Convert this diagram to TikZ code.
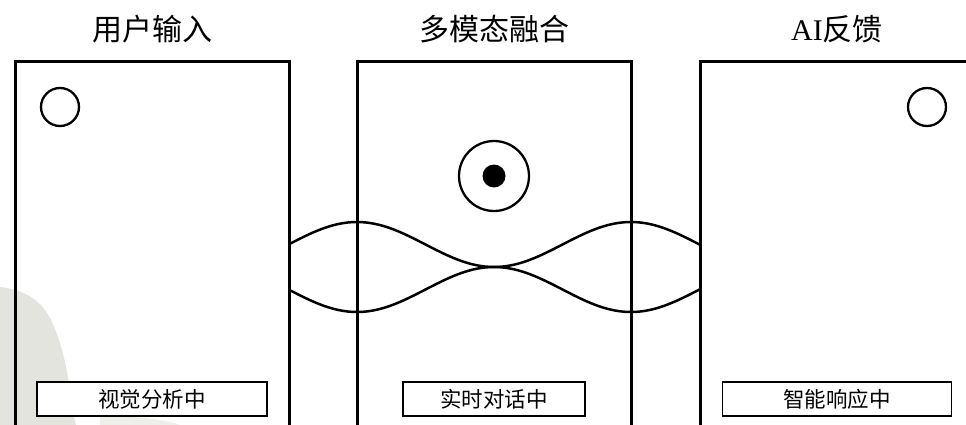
\documentclass[tikz,border=0pt]{standalone}
\usepackage{fontspec}
\setmainfont{Liberation Serif}
\newfontfamily\cjk{Noto Sans CJK SC}
\begin{document}
\begin{tikzpicture}[x=1pt,y=-1pt,
  panel/.style={draw=black, line width=3pt, minimum width=274pt, minimum height=380pt, inner sep=0pt},
  ptitle/.style={font=\fontsize{30}{32}\selectfont\cjk, inner sep=0pt, anchor=center},
  status/.style={draw=black, fill=white, line width=1.6pt, minimum height=34pt, inner sep=0pt, font=\fontsize{21.5}{24}\selectfont\cjk},
  ring/.style={circle, draw=black, line width=2.3pt, inner sep=0pt},
  wave/.style={line width=2.5pt, draw=black}]
\useasboundingbox (0,0) rectangle (966,425);
\clip (0,0) rectangle (966,425);
% faint background blob
\fill[color={rgb,255:red,227;green,228;blue,222}]
  (0,287) .. controls (25,290) and (42,300) .. (52,322)
  .. controls (62,345) and (68,370) .. (70,395)
  .. controls (72,410) and (74,418) .. (76,425) -- (0,425) -- cycle;
\fill[color={rgb,255:red,238;green,238;blue,234}]
  (100,417) .. controls (130,416) and (160,418) .. (180,425) -- (100,425) -- cycle;
% panels
\node[panel] (p1) at (152,252) {};
\node[panel] (p2) at (494,252) {};
\node[panel] (p3) at (837,252) {};
% titles
\node[ptitle] (t1) at (152,29) {用户输入};
\node[ptitle] (t2) at (494,29) {多模态融合};
\node[ptitle] (t3) at (837,29) {{\rmfamily AI}反馈};
% circles
\node[ring, minimum size=38pt] (c1) at (60,107) {};
\node[ring, minimum size=38pt] (c3) at (927,107) {};
\node[ring, minimum size=70pt] (c2) at (494,176) {};
\node[circle, fill=black, minimum size=23pt, inner sep=0pt] (d2) at (494,176) {};
% waves
\draw[wave] plot[domain=289:700, samples=120, smooth] (\x, {244.5-22.5*cos((\x-357)*1.313869)});
\draw[wave] plot[domain=289:700, samples=120, smooth] (\x, {289.5+22.5*cos((\x-357)*1.313869)});
% status labels
\node[status, minimum width=230pt] (s1) at (152,399) {视觉分析中};
\node[status, minimum width=182pt] (s2) at (494,399) {实时对话中};
\node[status, minimum width=229pt] (s3) at (837,399) {智能响应中};
\end{tikzpicture}
\end{document}
